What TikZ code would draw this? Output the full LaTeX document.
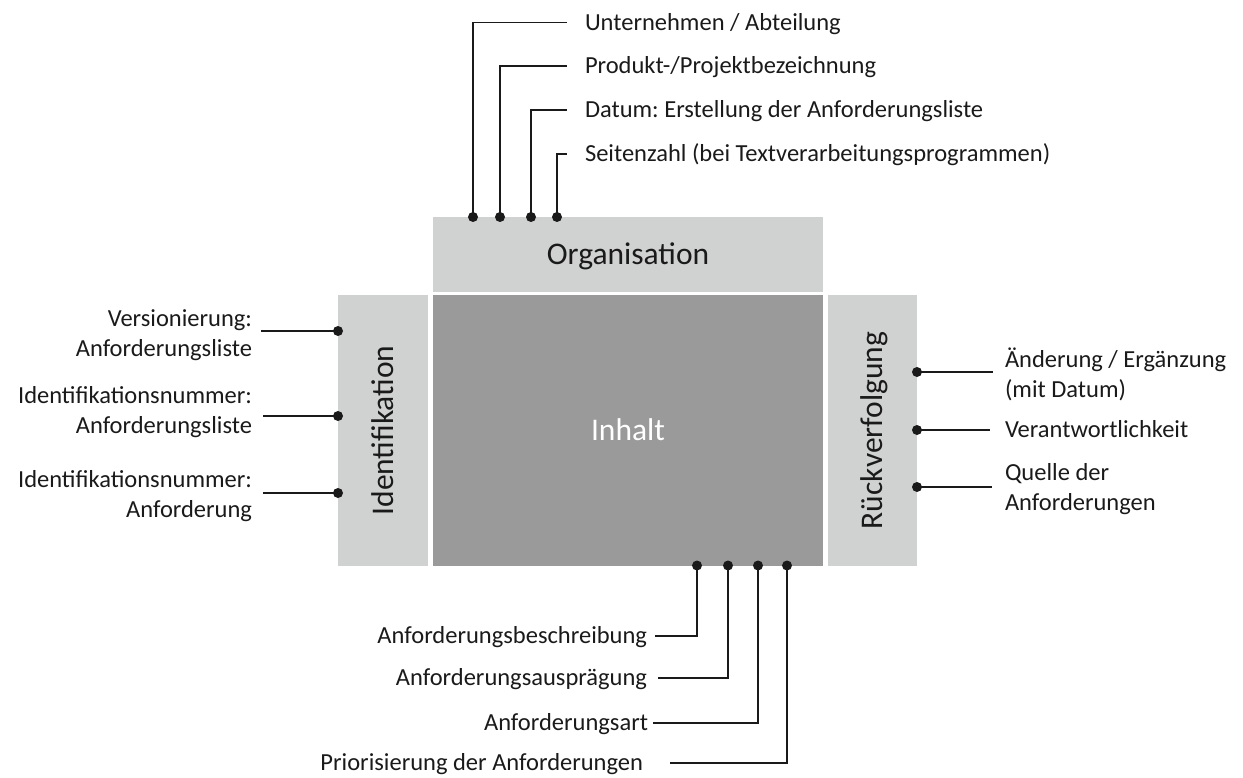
\documentclass[tikz,border=0pt]{standalone}
\usepackage{fontspec}
\setmainfont{Carlito}
\usetikzlibrary{calc}
\definecolor{boxlight}{HTML}{D0D1D1}
\definecolor{boxdark}{HTML}{9A9A9A}
\definecolor{ink}{HTML}{1A1A1A}
\frenchspacing
\begin{document}
\begin{tikzpicture}[x=1pt,y=-1pt,
  block/.style={draw=none, inner sep=0pt, outer sep=0pt,
    font=\fontsize{31.5}{36}\selectfont, text height=20.3pt, text depth=0pt},
  lightbox/.style={block, fill=boxlight, text=ink},
  darkbox/.style={block, fill=boxdark, text=white},
  dot/.style={circle, fill=ink, draw=none, inner sep=0pt, minimum size=10pt},
  conn/.style={draw=ink, line width=1.4pt},
  lbl/.style={inner sep=0pt, outer sep=0pt, text=ink,
    font=\fontsize{24.5}{30}\selectfont, text height=15.8pt, text depth=0pt},
  mlbl/.style={inner sep=0pt, outer sep=0pt, text=ink,
    font=\fontsize{24.5}{30}\selectfont}]
\useasboundingbox (0,0) rectangle (1243,778);

% the four blocks
\node[lightbox, minimum width=390pt, minimum height=75pt] (org) at (628,254.5) {Organisation};
\node[lightbox, rotate=90, minimum width=271pt, minimum height=90pt] (ident) at (383,430.5) {Identifikation};
\node[darkbox, minimum width=390pt, minimum height=271pt] (inh) at (628,430.5) {Inhalt};
\node[lightbox, rotate=90, minimum width=271pt, minimum height=89pt] (rueck) at (872.5,430.5) {Rückverfolgung};

% attachment points
\node[dot] (o1) at (473,217) {};
\node[dot] (o2) at (500,217) {};
\node[dot] (o3) at (531,217) {};
\node[dot] (o4) at (557,217) {};
\node[dot] (i1) at (338,331) {};
\node[dot] (i2) at (338,416) {};
\node[dot] (i3) at (338,493) {};
\node[dot] (r1) at (917,372) {};
\node[dot] (r2) at (917,430) {};
\node[dot] (r3) at (917,487) {};
\node[dot] (h1) at (697,565.5) {};
\node[dot] (h2) at (728,565.5) {};
\node[dot] (h3) at (758,565.5) {};
\node[dot] (h4) at (787,565.5) {};

% Organisation
\node[lbl, anchor=west] (lo1) at (585,22.7) {Unternehmen / Abteilung};
\node[lbl, anchor=west] (lo2) at (585,66) {Produkt-/Projektbezeichnung};
\node[lbl, anchor=west] (lo3) at (585,110) {Datum: Erstellung der Anforderungsliste};
\node[lbl, anchor=west] (lo4) at (585,154) {Seitenzahl (bei Textverarbeitungsprogrammen)};
\draw[conn] (o1.center) |- ($(lo1.west)+(-18,0)$);
\draw[conn] (o2.center) |- ($(lo2.west)+(-18,0)$);
\draw[conn] (o3.center) |- ($(lo3.west)+(-18,0)$);
\draw[conn] (o4.center) |- ($(lo4.west)+(-18,0)$);

% Identifikation
\node[mlbl, align=right, anchor=north east] (li1) at (252,305.7) {\strut Versionierung:\\\strut Anforderungsliste};
\node[mlbl, align=right, anchor=north east] (li2) at (252,382.3) {\strut Identifikationsnummer:\\\strut Anforderungsliste};
\node[mlbl, align=right, anchor=north east] (li3) at (252,466.3) {\strut Identifikationsnummer:\\\strut Anforderung};
\draw[conn] (i1.center) -- ($(i1.center -| li1.east)+(9,0)$);
\draw[conn] (i2.center) -- ($(i2.center -| li2.east)+(11,0)$);
\draw[conn] (i3.center) -- ($(i3.center -| li3.east)+(11,0)$);

% Rückverfolgung
\node[mlbl, align=left, anchor=north west] (lr1) at (1005,346.3) {\strut Änderung / Ergänzung\\\strut (mit Datum)};
\node[lbl, anchor=west] (lr2) at (1005,430) {Verantwortlichkeit};
\node[mlbl, align=left, anchor=north west] (lr3) at (1005,459.7) {\strut Quelle der\\\strut Anforderungen};
\draw[conn] (r1.center) -- ($(r1.center -| lr1.west)+(-12,0)$);
\draw[conn] (r2.center) -- ($(lr2.west)+(-15,0)$);
\draw[conn] (r3.center) -- ($(r3.center -| lr3.west)+(-13,0)$);

% Inhalt
\node[lbl, anchor=east] (lh1) at (647,636) {Anforderungsbeschreibung};
\node[lbl, anchor=east] (lh2) at (647,678) {Anforderungsausprägung};
\node[lbl, anchor=east] (lh3) at (648,723) {Anforderungsart};
\node[lbl, anchor=east] (lh4) at (643,763) {Priorisierung der Anforderungen};
\draw[conn] (h1.center) |- ($(lh1.east)+(8,0)$);
\draw[conn] (h2.center) |- ($(lh2.east)+(11,0)$);
\draw[conn] (h3.center) |- ($(lh3.east)+(5,0)$);
\draw[conn] (h4.center) |- ($(lh4.east)+(27,0)$);
\end{tikzpicture}
\end{document}
